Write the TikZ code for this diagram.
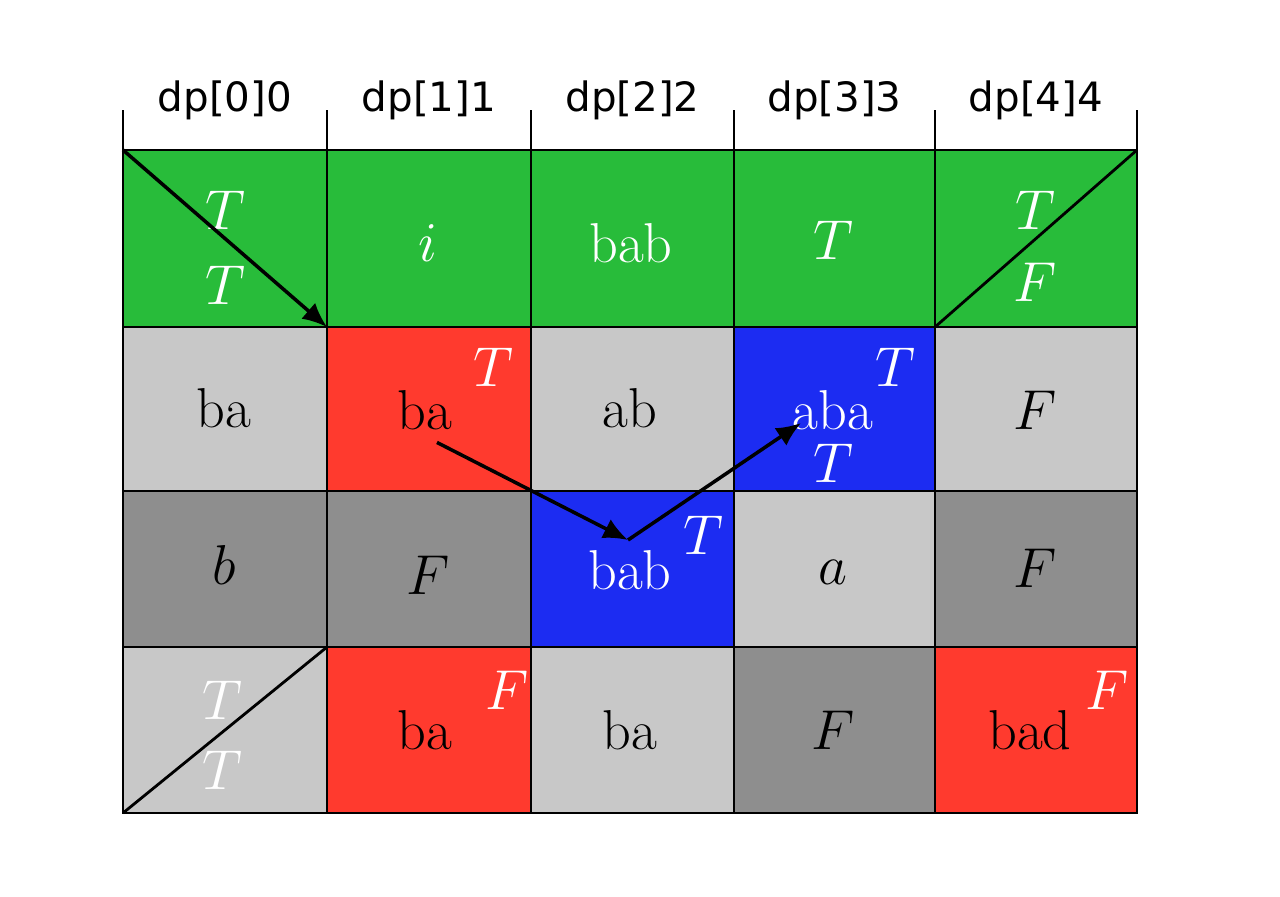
\RequirePackage{fix-cm}
\documentclass[tikz,border=0pt]{standalone}
\usepackage{fontspec}
\newfontfamily\headfont{DejaVu Sans}
\usetikzlibrary{arrows.meta,positioning}

\definecolor{cgreen}{RGB}{40,188,58}
\definecolor{cred}{RGB}{255,58,46}
\definecolor{cblue}{RGB}{28,44,242}
\definecolor{clight}{RGB}{200,200,200}
\definecolor{cdark}{RGB}{142,142,142}

\def\colx{{123,327,531,734,935,1137}}
\def\rowy{{150,327,491,647,813}}

\begin{document}
\begin{tikzpicture}[x=0.1mm,y=-0.1mm,
	cell/.style={draw=black,line width=0.6pt,inner sep=0pt,outer sep=0pt},
	head/.style={font=\headfont\fontsize{11.5}{13}\selectfont,inner sep=0pt},
	wt/.style={text=white,font=\fontsize{16}{19}\selectfont,inner sep=0pt},
	bk/.style={text=black,font=\fontsize{16}{19}\selectfont,inner sep=0pt},
	arr/.style={-{Latex[length=7pt,width=6pt]},line width=1pt}]
\useasboundingbox (0,0) rectangle (1280,896);

% cells, row by row
\foreach \fc [count=\i from 0] in {cgreen,cgreen,cgreen,cgreen,cgreen,
	clight,cred,clight,cblue,clight,
	cdark,cdark,cblue,clight,cdark,
	clight,cred,clight,cdark,cred}{
	\pgfmathtruncatemacro\ri{int(\i/5)}
	\pgfmathtruncatemacro\ci{mod(\i,5)}
	\pgfmathsetmacro\xa{\colx[\ci]}
	\pgfmathsetmacro\xb{\colx[\ci+1]}
	\pgfmathsetmacro\ya{\rowy[\ri]}
	\pgfmathsetmacro\yb{\rowy[\ri+1]}
	\node[cell,fill=\fc,minimum width={(\xb-\xa)*0.1mm},minimum height={(\yb-\ya)*0.1mm}]
		(c\ri\ci) at ({(\xa+\xb)/2},{(\ya+\yb)/2}) {};
}

% header ticks and labels
\foreach \x in {123,327,531,734,935,1137}
	\draw[line width=0.6pt] (\x,110) -- (\x,150);
\foreach \k in {0,...,4}
	\node[head,above=0.29cm of c0\k] (h\k) {dp[\k]\k};

% row 0
\node[wt] (t00a) at (225,210) {$T$};
\node[wt] (t00b) at (225,285) {$T$};
\node[wt] (t01) at (428,243) {$i$};
\node[wt] (t02) at (631,243) {bab};
\node[wt] (t03) at (833,240) {$T$};
\node[wt] (t04a) at (1035,210) {$T$};
\node[wt] (t04b) at (1035,282) {$F$};

% row 1
\node[bk] (t10) at (224,408) {ba};
\node[bk] (ba1) at (425,410) {ba};
\node[wt] (t11) at (493,367) {$T$};
\node[bk] (t12) at (630,408) {ab};
\node[wt] (aba) at (833,410) {aba};
\node[wt] (t13a) at (895,367) {$T$};
\node[wt] (t13b) at (833,463) {$T$};
\node[bk] (t14) at (1035,410) {$F$};

% row 2
\node[bk] (t20) at (224,565) {$b$};
\node[bk] (t21) at (428,575) {$F$};
\node[wt] (bab) at (630,570) {bab};
\node[wt] (t22) at (703,535) {$T$};
\node[bk] (t23) at (833,572) {$a$};
\node[bk] (t24) at (1035,568) {$F$};

% row 3
\node[wt] (t30a) at (222,700) {$T$};
\node[wt] (t30b) at (222,770) {$T$};
\node[bk] (t31) at (425,730) {ba};
\node[wt] (t31f) at (507,690) {$F$};
\node[bk] (t32) at (630,730) {ba};
\node[bk] (t33) at (833,730) {$F$};
\node[bk] (t34) at (1030,730) {bad};
\node[wt] (t34f) at (1107,690) {$F$};

% diagonals
\draw[arr] (c00.north west) -- (c00.south east);
\draw[line width=0.8pt] (c04.south west) -- (c04.north east);
\draw[line width=0.8pt] (c30.south west) -- (c30.north east);

% path ba -> bab -> aba
\coordinate (meet) at (628,540);
\draw[arr] ([shift={(12,12)}]ba1.south) -- (meet);
\draw[arr] (meet) -- ([shift={(-32,13)}]aba.center);
\end{tikzpicture}
\end{document}
